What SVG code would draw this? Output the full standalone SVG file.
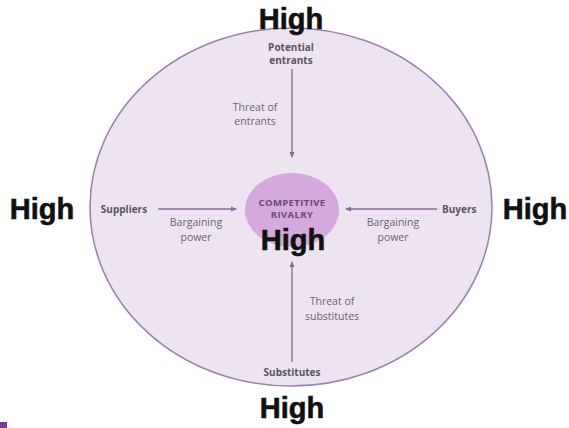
<svg xmlns="http://www.w3.org/2000/svg" width="569" height="428" viewBox="0 0 569 428">
  <style>
    .level { font-family: "Liberation Sans", Arial, sans-serif; font-weight: bold; font-size: 29px; fill: #111; stroke: #111; stroke-width: 0.6; }
    .force { font-family: "Open Sans", "Liberation Sans", sans-serif; font-weight: bold; font-size: 10px; fill: #5a5560; }
    .note { font-family: "Open Sans", "Liberation Sans", sans-serif; font-size: 10.5px; fill: #6a6570; }
    .core { font-family: "Open Sans", "Liberation Sans", sans-serif; font-weight: bold; font-size: 9.5px; fill: #6a4a78; letter-spacing: 0.4px; }
    .flow { stroke: #8c6a9c; stroke-width: 1.4; fill: none; marker-end: url(#tip); }
  </style>
  <defs>
    <marker id="tip" markerWidth="6" markerHeight="6" refX="5" refY="3" orient="auto" markerUnits="userSpaceOnUse">
      <path d="M0,0.5 L6,3 L0,5.5 Z" fill="#8c6a9c"/>
    </marker>
  </defs>
  <rect width="569" height="428" fill="#ffffff"/>

  <!-- industry boundary -->
  <g id="industry">
    <ellipse cx="291" cy="207" rx="201" ry="179" fill="#ede3f1" stroke="#9a80ab" stroke-width="1.5"/>
  </g>

  <!-- connectors -->
  <g id="connectors">
    <line class="flow" x1="292" y1="69" x2="292" y2="157"/>
    <line class="flow" x1="158" y1="209" x2="236" y2="209"/>
    <line class="flow" x1="437" y1="209" x2="346" y2="209"/>
    <line class="flow" x1="292" y1="362" x2="292" y2="262"/>
  </g>

  <g id="rivalry">
    <ellipse cx="292" cy="210" rx="47" ry="37" fill="#d4a9dc"/>
    <text class="core" x="292" y="206" text-anchor="middle">COMPETITIVE</text>
    <text class="core" x="292" y="218" text-anchor="middle">RIVALRY</text>
    <text class="level" x="293" y="250" text-anchor="middle">High</text>
  </g>

  <g id="entrants">
    <text class="force" x="291" y="51" text-anchor="middle">Potential</text>
    <text class="force" x="291" y="64" text-anchor="middle">entrants</text>
    <text class="note" x="255" y="111" text-anchor="middle">Threat of</text>
    <text class="note" x="255" y="125" text-anchor="middle">entrants</text>
    <text class="level" x="291" y="29" text-anchor="middle">High</text>
  </g>

  <g id="suppliers">
    <text class="force" x="124" y="213" text-anchor="middle">Suppliers</text>
    <text class="note" x="196" y="226" text-anchor="middle">Bargaining</text>
    <text class="note" x="196" y="241" text-anchor="middle">power</text>
    <text class="level" x="42" y="219" text-anchor="middle">High</text>
  </g>

  <g id="buyers">
    <text class="force" x="442" y="213">Buyers</text>
    <text class="note" x="393" y="226" text-anchor="middle">Bargaining</text>
    <text class="note" x="393" y="241" text-anchor="middle">power</text>
    <text class="level" x="535" y="219" text-anchor="middle">High</text>
  </g>

  <g id="substitutes">
    <text class="note" x="332" y="305" text-anchor="middle">Threat of</text>
    <text class="note" x="332" y="320" text-anchor="middle">substitutes</text>
    <text class="force" x="292" y="376" text-anchor="middle">Substitutes</text>
    <text class="level" x="292" y="418" text-anchor="middle">High</text>
  </g>

  <rect x="0" y="422" width="7" height="6" fill="#7a3a9a"/>
</svg>
